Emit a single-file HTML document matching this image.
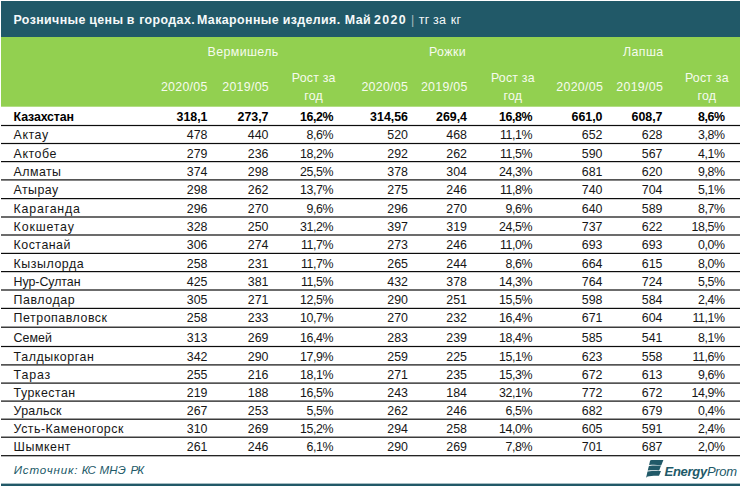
<!DOCTYPE html>
<html><head><meta charset="utf-8"><style>
html,body{margin:0;padding:0;background:#fff;}
body{width:740px;height:486px;position:relative;overflow:hidden;font-family:"Liberation Sans",sans-serif;color:#161616;}
.a{position:absolute;white-space:nowrap;}
.top{left:1px;top:1px;width:739px;height:36px;background:#215968;}
.grn{left:1px;top:37px;width:739px;height:69px;background:#92d050;border-bottom:1px solid #b3de85;}
.bot{left:1px;top:483px;width:739px;height:2px;background:#215968;border-top:1px solid #a6bdc3;}
.t{font-size:12.4px;line-height:14px;height:14px;}
.n{letter-spacing:0.35px;}
.r{text-align:right;}
.b{font-weight:bold;color:#000;}
.h{color:#f6fbee;font-size:12.4px;line-height:14px;}
.c{text-align:center;}
.tw{color:#f6f9fa;font-size:12.4px;letter-spacing:0.4px;line-height:16px;font-weight:bold;top:12px;}
.tu{color:#f4f8f8;font-size:12.5px;letter-spacing:0.3px;line-height:16px;top:12px;}
.sw{color:#215968;font-style:italic;font-size:11.6px;line-height:14px;top:463px;}
</style></head><body>
<div class="a top"></div><div class="a grn"></div><div class="a bot"></div>

<div class="a tw" id="tw0" style="left:13.5px;">Розничные</div>
<div class="a tw" id="tw1" style="left:89.3px;">цены</div>
<div class="a tw" id="tw2" style="left:126.8px;">в</div>
<div class="a tw" id="tw3" style="left:139.2px;">городах.</div>
<div class="a tw" id="tw4" style="left:197.0px;">Макаронные</div>
<div class="a tw" id="tw5" style="left:282.7px;">изделия.</div>
<div class="a tw" id="tw6" style="left:344.8px;">Май</div>
<div class="a tw" id="tw7" style="left:374.0px;letter-spacing:1.4px;">2020</div>
<div class="a tu" id="tu0" style="left:411.1px;color:#a3b9bf;">|</div>
<div class="a tu" id="tu1" style="left:418.8px;">тг</div>
<div class="a tu" id="tu2" style="left:433.0px;">за</div>
<div class="a tu" id="tu3" style="left:450.8px;">кг</div>
<div class="a h c" id="g0" style="left:183.1px;width:120px;top:45px;letter-spacing:0.4px;">Вермишель</div>
<div class="a h c" id="g1" style="left:387.5px;width:120px;top:45px;letter-spacing:0.4px;">Рожки</div>
<div class="a h c" id="g2" style="left:583.3000000000001px;width:120px;top:45px;letter-spacing:0.4px;">Лапша</div>
<div class="a h r" id="s0" style="left:127.70000000000002px;width:80px;top:80px;letter-spacing:0.28px;">2020/05</div>
<div class="a h r" id="s1" style="left:189.0px;width:80px;top:80px;letter-spacing:0.28px;">2019/05</div>
<div class="a h c" id="s2" style="left:273.70000000000005px;width:80px;top:69px;line-height:18px;letter-spacing:0.2px;">Рост за<br>год</div>
<div class="a h r" id="s3" style="left:328.2px;width:80px;top:80px;letter-spacing:0.28px;">2020/05</div>
<div class="a h r" id="s4" style="left:387.7px;width:80px;top:80px;letter-spacing:0.28px;">2019/05</div>
<div class="a h c" id="s5" style="left:472.9px;width:80px;top:69px;line-height:18px;letter-spacing:0.2px;">Рост за<br>год</div>
<div class="a h r" id="s6" style="left:523.1px;width:80px;top:80px;letter-spacing:0.28px;">2020/05</div>
<div class="a h r" id="s7" style="left:583.1px;width:80px;top:80px;letter-spacing:0.28px;">2019/05</div>
<div class="a h c" id="s8" style="left:666.9px;width:80px;top:69px;line-height:18px;letter-spacing:0.2px;">Рост за<br>год</div>
<svg class="a" style="left:0;top:0;" width="740" height="486" viewBox="0 0 740 486">
<rect x="1" y="124.90" width="739" height="1.2" fill="#0c0c0c"/>
<rect x="1" y="142.90" width="739" height="1.2" fill="#0c0c0c"/>
<rect x="1" y="161.00" width="739" height="1.2" fill="#0c0c0c"/>
<rect x="1" y="179.30" width="739" height="1.2" fill="#0c0c0c"/>
<rect x="1" y="198.00" width="739" height="1.2" fill="#0c0c0c"/>
<rect x="1" y="216.40" width="739" height="1.2" fill="#0c0c0c"/>
<rect x="1" y="234.40" width="739" height="1.2" fill="#0c0c0c"/>
<rect x="1" y="252.80" width="739" height="1.2" fill="#0c0c0c"/>
<rect x="1" y="271.00" width="739" height="1.2" fill="#0c0c0c"/>
<rect x="1" y="289.40" width="739" height="1.2" fill="#0c0c0c"/>
<rect x="1" y="307.80" width="739" height="1.2" fill="#0c0c0c"/>
<rect x="1" y="326.60" width="739" height="1.2" fill="#0c0c0c"/>
<rect x="1" y="345.90" width="739" height="1.2" fill="#0c0c0c"/>
<rect x="1" y="364.30" width="739" height="1.2" fill="#0c0c0c"/>
<rect x="1" y="382.50" width="739" height="1.2" fill="#0c0c0c"/>
<rect x="1" y="400.50" width="739" height="1.2" fill="#0c0c0c"/>
<rect x="1" y="418.60" width="739" height="1.2" fill="#0c0c0c"/>
<rect x="1" y="436.60" width="739" height="1.2" fill="#0c0c0c"/>
<rect x="1" y="455.10" width="739" height="1.2" fill="#0c0c0c"/>
</svg>
<div class="a t b" id="n0" style="left:13.6px;top:110px;letter-spacing:-0.15px;">Казахстан</div>
<div class="a t b r" id="v0_0" style="left:137.5px;width:70px;top:110px;">318,1</div>
<div class="a t b r" id="v0_1" style="left:198.5px;width:70px;top:110px;">273,7</div>
<div class="a t b r" id="v0_2" style="left:263.1px;width:70px;top:110px;letter-spacing:-0.4px;">16,2%</div>
<div class="a t b r" id="v0_3" style="left:338.0px;width:70px;top:110px;">314,56</div>
<div class="a t b r" id="v0_4" style="left:397.0px;width:70px;top:110px;">269,4</div>
<div class="a t b r" id="v0_5" style="left:462.1px;width:70px;top:110px;letter-spacing:-0.4px;">16,8%</div>
<div class="a t b r" id="v0_6" style="left:532.5px;width:70px;top:110px;">661,0</div>
<div class="a t b r" id="v0_7" style="left:592.5px;width:70px;top:110px;">608,7</div>
<div class="a t b r" id="v0_8" style="left:654.6px;width:70px;top:110px;letter-spacing:-0.4px;">8,6%</div>
<div class="a t" id="n1" style="left:13.6px;top:128px;letter-spacing:0.55px;">Актау</div>
<div class="a t r" id="v1_0" style="left:137.5px;width:70px;top:128px;">478</div>
<div class="a t r" id="v1_1" style="left:198.5px;width:70px;top:128px;">440</div>
<div class="a t r" id="v1_2" style="left:263.1px;width:70px;top:128px;letter-spacing:-0.4px;">8,6%</div>
<div class="a t r" id="v1_3" style="left:338.0px;width:70px;top:128px;">520</div>
<div class="a t r" id="v1_4" style="left:397.0px;width:70px;top:128px;">468</div>
<div class="a t r" id="v1_5" style="left:462.1px;width:70px;top:128px;letter-spacing:-0.4px;">11,1%</div>
<div class="a t r" id="v1_6" style="left:532.5px;width:70px;top:128px;">652</div>
<div class="a t r" id="v1_7" style="left:592.5px;width:70px;top:128px;">628</div>
<div class="a t r" id="v1_8" style="left:654.6px;width:70px;top:128px;letter-spacing:-0.4px;">3,8%</div>
<div class="a t" id="n2" style="left:13.6px;top:147px;letter-spacing:0.55px;">Актобе</div>
<div class="a t r" id="v2_0" style="left:137.5px;width:70px;top:147px;">279</div>
<div class="a t r" id="v2_1" style="left:198.5px;width:70px;top:147px;">236</div>
<div class="a t r" id="v2_2" style="left:263.1px;width:70px;top:147px;letter-spacing:-0.4px;">18,2%</div>
<div class="a t r" id="v2_3" style="left:338.0px;width:70px;top:147px;">292</div>
<div class="a t r" id="v2_4" style="left:397.0px;width:70px;top:147px;">262</div>
<div class="a t r" id="v2_5" style="left:462.1px;width:70px;top:147px;letter-spacing:-0.4px;">11,5%</div>
<div class="a t r" id="v2_6" style="left:532.5px;width:70px;top:147px;">590</div>
<div class="a t r" id="v2_7" style="left:592.5px;width:70px;top:147px;">567</div>
<div class="a t r" id="v2_8" style="left:654.6px;width:70px;top:147px;letter-spacing:-0.4px;">4,1%</div>
<div class="a t" id="n3" style="left:13.6px;top:165px;letter-spacing:0.43px;">Алматы</div>
<div class="a t r" id="v3_0" style="left:137.5px;width:70px;top:165px;">374</div>
<div class="a t r" id="v3_1" style="left:198.5px;width:70px;top:165px;">298</div>
<div class="a t r" id="v3_2" style="left:263.1px;width:70px;top:165px;letter-spacing:-0.4px;">25,5%</div>
<div class="a t r" id="v3_3" style="left:338.0px;width:70px;top:165px;">378</div>
<div class="a t r" id="v3_4" style="left:397.0px;width:70px;top:165px;">304</div>
<div class="a t r" id="v3_5" style="left:462.1px;width:70px;top:165px;letter-spacing:-0.4px;">24,3%</div>
<div class="a t r" id="v3_6" style="left:532.5px;width:70px;top:165px;">681</div>
<div class="a t r" id="v3_7" style="left:592.5px;width:70px;top:165px;">620</div>
<div class="a t r" id="v3_8" style="left:654.6px;width:70px;top:165px;letter-spacing:-0.4px;">9,8%</div>
<div class="a t" id="n4" style="left:13.6px;top:183px;letter-spacing:0.43px;">Атырау</div>
<div class="a t r" id="v4_0" style="left:137.5px;width:70px;top:183px;">298</div>
<div class="a t r" id="v4_1" style="left:198.5px;width:70px;top:183px;">262</div>
<div class="a t r" id="v4_2" style="left:263.1px;width:70px;top:183px;letter-spacing:-0.4px;">13,7%</div>
<div class="a t r" id="v4_3" style="left:338.0px;width:70px;top:183px;">275</div>
<div class="a t r" id="v4_4" style="left:397.0px;width:70px;top:183px;">246</div>
<div class="a t r" id="v4_5" style="left:462.1px;width:70px;top:183px;letter-spacing:-0.4px;">11,8%</div>
<div class="a t r" id="v4_6" style="left:532.5px;width:70px;top:183px;">740</div>
<div class="a t r" id="v4_7" style="left:592.5px;width:70px;top:183px;">704</div>
<div class="a t r" id="v4_8" style="left:654.6px;width:70px;top:183px;letter-spacing:-0.4px;">5,1%</div>
<div class="a t" id="n5" style="left:13.6px;top:202px;letter-spacing:0.79px;">Караганда</div>
<div class="a t r" id="v5_0" style="left:137.5px;width:70px;top:202px;">296</div>
<div class="a t r" id="v5_1" style="left:198.5px;width:70px;top:202px;">270</div>
<div class="a t r" id="v5_2" style="left:263.1px;width:70px;top:202px;letter-spacing:-0.4px;">9,6%</div>
<div class="a t r" id="v5_3" style="left:338.0px;width:70px;top:202px;">296</div>
<div class="a t r" id="v5_4" style="left:397.0px;width:70px;top:202px;">270</div>
<div class="a t r" id="v5_5" style="left:462.1px;width:70px;top:202px;letter-spacing:-0.4px;">9,6%</div>
<div class="a t r" id="v5_6" style="left:532.5px;width:70px;top:202px;">640</div>
<div class="a t r" id="v5_7" style="left:592.5px;width:70px;top:202px;">589</div>
<div class="a t r" id="v5_8" style="left:654.6px;width:70px;top:202px;letter-spacing:-0.4px;">8,7%</div>
<div class="a t" id="n6" style="left:13.6px;top:220px;letter-spacing:0.84px;">Кокшетау</div>
<div class="a t r" id="v6_0" style="left:137.5px;width:70px;top:220px;">328</div>
<div class="a t r" id="v6_1" style="left:198.5px;width:70px;top:220px;">250</div>
<div class="a t r" id="v6_2" style="left:263.1px;width:70px;top:220px;letter-spacing:-0.4px;">31,2%</div>
<div class="a t r" id="v6_3" style="left:338.0px;width:70px;top:220px;">397</div>
<div class="a t r" id="v6_4" style="left:397.0px;width:70px;top:220px;">319</div>
<div class="a t r" id="v6_5" style="left:462.1px;width:70px;top:220px;letter-spacing:-0.4px;">24,5%</div>
<div class="a t r" id="v6_6" style="left:532.5px;width:70px;top:220px;">737</div>
<div class="a t r" id="v6_7" style="left:592.5px;width:70px;top:220px;">622</div>
<div class="a t r" id="v6_8" style="left:654.6px;width:70px;top:220px;letter-spacing:-0.4px;">18,5%</div>
<div class="a t" id="n7" style="left:13.6px;top:238px;letter-spacing:0.49px;">Костанай</div>
<div class="a t r" id="v7_0" style="left:137.5px;width:70px;top:238px;">306</div>
<div class="a t r" id="v7_1" style="left:198.5px;width:70px;top:238px;">274</div>
<div class="a t r" id="v7_2" style="left:263.1px;width:70px;top:238px;letter-spacing:-0.4px;">11,7%</div>
<div class="a t r" id="v7_3" style="left:338.0px;width:70px;top:238px;">273</div>
<div class="a t r" id="v7_4" style="left:397.0px;width:70px;top:238px;">246</div>
<div class="a t r" id="v7_5" style="left:462.1px;width:70px;top:238px;letter-spacing:-0.4px;">11,0%</div>
<div class="a t r" id="v7_6" style="left:532.5px;width:70px;top:238px;">693</div>
<div class="a t r" id="v7_7" style="left:592.5px;width:70px;top:238px;">693</div>
<div class="a t r" id="v7_8" style="left:654.6px;width:70px;top:238px;letter-spacing:-0.4px;">0,0%</div>
<div class="a t" id="n8" style="left:13.6px;top:257px;letter-spacing:0.55px;">Кызылорда</div>
<div class="a t r" id="v8_0" style="left:137.5px;width:70px;top:257px;">258</div>
<div class="a t r" id="v8_1" style="left:198.5px;width:70px;top:257px;">231</div>
<div class="a t r" id="v8_2" style="left:263.1px;width:70px;top:257px;letter-spacing:-0.4px;">11,7%</div>
<div class="a t r" id="v8_3" style="left:338.0px;width:70px;top:257px;">265</div>
<div class="a t r" id="v8_4" style="left:397.0px;width:70px;top:257px;">244</div>
<div class="a t r" id="v8_5" style="left:462.1px;width:70px;top:257px;letter-spacing:-0.4px;">8,6%</div>
<div class="a t r" id="v8_6" style="left:532.5px;width:70px;top:257px;">664</div>
<div class="a t r" id="v8_7" style="left:592.5px;width:70px;top:257px;">615</div>
<div class="a t r" id="v8_8" style="left:654.6px;width:70px;top:257px;letter-spacing:-0.4px;">8,0%</div>
<div class="a t" id="n9" style="left:13.6px;top:275px;letter-spacing:-0.05px;">Нур-Султан</div>
<div class="a t r" id="v9_0" style="left:137.5px;width:70px;top:275px;">425</div>
<div class="a t r" id="v9_1" style="left:198.5px;width:70px;top:275px;">381</div>
<div class="a t r" id="v9_2" style="left:263.1px;width:70px;top:275px;letter-spacing:-0.4px;">11,5%</div>
<div class="a t r" id="v9_3" style="left:338.0px;width:70px;top:275px;">432</div>
<div class="a t r" id="v9_4" style="left:397.0px;width:70px;top:275px;">378</div>
<div class="a t r" id="v9_5" style="left:462.1px;width:70px;top:275px;letter-spacing:-0.4px;">14,3%</div>
<div class="a t r" id="v9_6" style="left:532.5px;width:70px;top:275px;">764</div>
<div class="a t r" id="v9_7" style="left:592.5px;width:70px;top:275px;">724</div>
<div class="a t r" id="v9_8" style="left:654.6px;width:70px;top:275px;letter-spacing:-0.4px;">5,5%</div>
<div class="a t" id="n10" style="left:13.6px;top:293px;letter-spacing:0.55px;">Павлодар</div>
<div class="a t r" id="v10_0" style="left:137.5px;width:70px;top:293px;">305</div>
<div class="a t r" id="v10_1" style="left:198.5px;width:70px;top:293px;">271</div>
<div class="a t r" id="v10_2" style="left:263.1px;width:70px;top:293px;letter-spacing:-0.4px;">12,5%</div>
<div class="a t r" id="v10_3" style="left:338.0px;width:70px;top:293px;">290</div>
<div class="a t r" id="v10_4" style="left:397.0px;width:70px;top:293px;">251</div>
<div class="a t r" id="v10_5" style="left:462.1px;width:70px;top:293px;letter-spacing:-0.4px;">15,5%</div>
<div class="a t r" id="v10_6" style="left:532.5px;width:70px;top:293px;">598</div>
<div class="a t r" id="v10_7" style="left:592.5px;width:70px;top:293px;">584</div>
<div class="a t r" id="v10_8" style="left:654.6px;width:70px;top:293px;letter-spacing:-0.4px;">2,4%</div>
<div class="a t" id="n11" style="left:13.6px;top:311px;letter-spacing:0.53px;">Петропавловск</div>
<div class="a t r" id="v11_0" style="left:137.5px;width:70px;top:311px;">258</div>
<div class="a t r" id="v11_1" style="left:198.5px;width:70px;top:311px;">233</div>
<div class="a t r" id="v11_2" style="left:263.1px;width:70px;top:311px;letter-spacing:-0.4px;">10,7%</div>
<div class="a t r" id="v11_3" style="left:338.0px;width:70px;top:311px;">270</div>
<div class="a t r" id="v11_4" style="left:397.0px;width:70px;top:311px;">232</div>
<div class="a t r" id="v11_5" style="left:462.1px;width:70px;top:311px;letter-spacing:-0.4px;">16,4%</div>
<div class="a t r" id="v11_6" style="left:532.5px;width:70px;top:311px;">671</div>
<div class="a t r" id="v11_7" style="left:592.5px;width:70px;top:311px;">604</div>
<div class="a t r" id="v11_8" style="left:654.6px;width:70px;top:311px;letter-spacing:-0.4px;">11,1%</div>
<div class="a t" id="n12" style="left:13.6px;top:331px;letter-spacing:0.05px;">Семей</div>
<div class="a t r" id="v12_0" style="left:137.5px;width:70px;top:331px;">313</div>
<div class="a t r" id="v12_1" style="left:198.5px;width:70px;top:331px;">269</div>
<div class="a t r" id="v12_2" style="left:263.1px;width:70px;top:331px;letter-spacing:-0.4px;">16,4%</div>
<div class="a t r" id="v12_3" style="left:338.0px;width:70px;top:331px;">283</div>
<div class="a t r" id="v12_4" style="left:397.0px;width:70px;top:331px;">239</div>
<div class="a t r" id="v12_5" style="left:462.1px;width:70px;top:331px;letter-spacing:-0.4px;">18,4%</div>
<div class="a t r" id="v12_6" style="left:532.5px;width:70px;top:331px;">585</div>
<div class="a t r" id="v12_7" style="left:592.5px;width:70px;top:331px;">541</div>
<div class="a t r" id="v12_8" style="left:654.6px;width:70px;top:331px;letter-spacing:-0.4px;">8,1%</div>
<div class="a t" id="n13" style="left:13.6px;top:350px;letter-spacing:0.57px;">Талдыкорган</div>
<div class="a t r" id="v13_0" style="left:137.5px;width:70px;top:350px;">342</div>
<div class="a t r" id="v13_1" style="left:198.5px;width:70px;top:350px;">290</div>
<div class="a t r" id="v13_2" style="left:263.1px;width:70px;top:350px;letter-spacing:-0.4px;">17,9%</div>
<div class="a t r" id="v13_3" style="left:338.0px;width:70px;top:350px;">259</div>
<div class="a t r" id="v13_4" style="left:397.0px;width:70px;top:350px;">225</div>
<div class="a t r" id="v13_5" style="left:462.1px;width:70px;top:350px;letter-spacing:-0.4px;">15,1%</div>
<div class="a t r" id="v13_6" style="left:532.5px;width:70px;top:350px;">623</div>
<div class="a t r" id="v13_7" style="left:592.5px;width:70px;top:350px;">558</div>
<div class="a t r" id="v13_8" style="left:654.6px;width:70px;top:350px;letter-spacing:-0.4px;">11,6%</div>
<div class="a t" id="n14" style="left:13.6px;top:368px;letter-spacing:0.85px;">Тараз</div>
<div class="a t r" id="v14_0" style="left:137.5px;width:70px;top:368px;">255</div>
<div class="a t r" id="v14_1" style="left:198.5px;width:70px;top:368px;">216</div>
<div class="a t r" id="v14_2" style="left:263.1px;width:70px;top:368px;letter-spacing:-0.4px;">18,1%</div>
<div class="a t r" id="v14_3" style="left:338.0px;width:70px;top:368px;">271</div>
<div class="a t r" id="v14_4" style="left:397.0px;width:70px;top:368px;">235</div>
<div class="a t r" id="v14_5" style="left:462.1px;width:70px;top:368px;letter-spacing:-0.4px;">15,3%</div>
<div class="a t r" id="v14_6" style="left:532.5px;width:70px;top:368px;">672</div>
<div class="a t r" id="v14_7" style="left:592.5px;width:70px;top:368px;">613</div>
<div class="a t r" id="v14_8" style="left:654.6px;width:70px;top:368px;letter-spacing:-0.4px;">9,6%</div>
<div class="a t" id="n15" style="left:13.6px;top:386px;letter-spacing:0.48px;">Туркестан</div>
<div class="a t r" id="v15_0" style="left:137.5px;width:70px;top:386px;">219</div>
<div class="a t r" id="v15_1" style="left:198.5px;width:70px;top:386px;">188</div>
<div class="a t r" id="v15_2" style="left:263.1px;width:70px;top:386px;letter-spacing:-0.4px;">16,5%</div>
<div class="a t r" id="v15_3" style="left:338.0px;width:70px;top:386px;">243</div>
<div class="a t r" id="v15_4" style="left:397.0px;width:70px;top:386px;">184</div>
<div class="a t r" id="v15_5" style="left:462.1px;width:70px;top:386px;letter-spacing:-0.4px;">32,1%</div>
<div class="a t r" id="v15_6" style="left:532.5px;width:70px;top:386px;">772</div>
<div class="a t r" id="v15_7" style="left:592.5px;width:70px;top:386px;">672</div>
<div class="a t r" id="v15_8" style="left:654.6px;width:70px;top:386px;letter-spacing:-0.4px;">14,9%</div>
<div class="a t" id="n16" style="left:13.6px;top:404px;letter-spacing:0.25px;">Уральск</div>
<div class="a t r" id="v16_0" style="left:137.5px;width:70px;top:404px;">267</div>
<div class="a t r" id="v16_1" style="left:198.5px;width:70px;top:404px;">253</div>
<div class="a t r" id="v16_2" style="left:263.1px;width:70px;top:404px;letter-spacing:-0.4px;">5,5%</div>
<div class="a t r" id="v16_3" style="left:338.0px;width:70px;top:404px;">262</div>
<div class="a t r" id="v16_4" style="left:397.0px;width:70px;top:404px;">246</div>
<div class="a t r" id="v16_5" style="left:462.1px;width:70px;top:404px;letter-spacing:-0.4px;">6,5%</div>
<div class="a t r" id="v16_6" style="left:532.5px;width:70px;top:404px;">682</div>
<div class="a t r" id="v16_7" style="left:592.5px;width:70px;top:404px;">679</div>
<div class="a t r" id="v16_8" style="left:654.6px;width:70px;top:404px;letter-spacing:-0.4px;">0,4%</div>
<div class="a t" id="n17" style="left:13.6px;top:422px;letter-spacing:0.49px;">Усть-Каменогорск</div>
<div class="a t r" id="v17_0" style="left:137.5px;width:70px;top:422px;">310</div>
<div class="a t r" id="v17_1" style="left:198.5px;width:70px;top:422px;">269</div>
<div class="a t r" id="v17_2" style="left:263.1px;width:70px;top:422px;letter-spacing:-0.4px;">15,2%</div>
<div class="a t r" id="v17_3" style="left:338.0px;width:70px;top:422px;">294</div>
<div class="a t r" id="v17_4" style="left:397.0px;width:70px;top:422px;">258</div>
<div class="a t r" id="v17_5" style="left:462.1px;width:70px;top:422px;letter-spacing:-0.4px;">14,0%</div>
<div class="a t r" id="v17_6" style="left:532.5px;width:70px;top:422px;">605</div>
<div class="a t r" id="v17_7" style="left:592.5px;width:70px;top:422px;">591</div>
<div class="a t r" id="v17_8" style="left:654.6px;width:70px;top:422px;letter-spacing:-0.4px;">2,4%</div>
<div class="a t" id="n18" style="left:13.6px;top:440px;letter-spacing:0.52px;">Шымкент</div>
<div class="a t r" id="v18_0" style="left:137.5px;width:70px;top:440px;">261</div>
<div class="a t r" id="v18_1" style="left:198.5px;width:70px;top:440px;">246</div>
<div class="a t r" id="v18_2" style="left:263.1px;width:70px;top:440px;letter-spacing:-0.4px;">6,1%</div>
<div class="a t r" id="v18_3" style="left:338.0px;width:70px;top:440px;">290</div>
<div class="a t r" id="v18_4" style="left:397.0px;width:70px;top:440px;">269</div>
<div class="a t r" id="v18_5" style="left:462.1px;width:70px;top:440px;letter-spacing:-0.4px;">7,8%</div>
<div class="a t r" id="v18_6" style="left:532.5px;width:70px;top:440px;">701</div>
<div class="a t r" id="v18_7" style="left:592.5px;width:70px;top:440px;">687</div>
<div class="a t r" id="v18_8" style="left:654.6px;width:70px;top:440px;letter-spacing:-0.4px;">2,0%</div>
<div class="a sw" id="sw0" style="left:13.7px;letter-spacing:0.85px;">Источник:</div>
<div class="a sw" id="sw1" style="left:81.8px;letter-spacing:-1.0px;">КС</div>
<div class="a sw" id="sw2" style="left:99.5px;letter-spacing:0.1px;">МНЭ</div>
<div class="a sw" id="sw3" style="left:130.6px;letter-spacing:-1.0px;">РК</div>
<svg class="a" id="logo" style="left:642px;top:456px;" width="30" height="26" viewBox="0 0 30 26">
<g fill="#215968">
<path d="M8.0,4.9 C8.3,4.3 8.8,4.1 9.6,4.1 L21.4,4.1 L19.3,9.2 C15,8.7 11,8.5 7.1,9.0 Z"/>
<path d="M6.9,9.9 C11,9.3 15,9.4 19.0,9.6 L17.2,14.5 C13,14.2 9,14.1 5.7,14.6 Z"/>
<path d="M5.5,15.5 C9.5,14.9 14,14.9 19.0,15.0 L17.0,19.7 C12,19.6 8,19.8 5.6,20.4 L4.1,21.7 Z"/>
</g></svg>
<div class="a" id="ep" style="left:664.6px;top:464px;color:#215968;font-style:italic;font-size:13px;line-height:16px;letter-spacing:-0.3px;"><b>Energy</b>Prom</div>
</body></html>
